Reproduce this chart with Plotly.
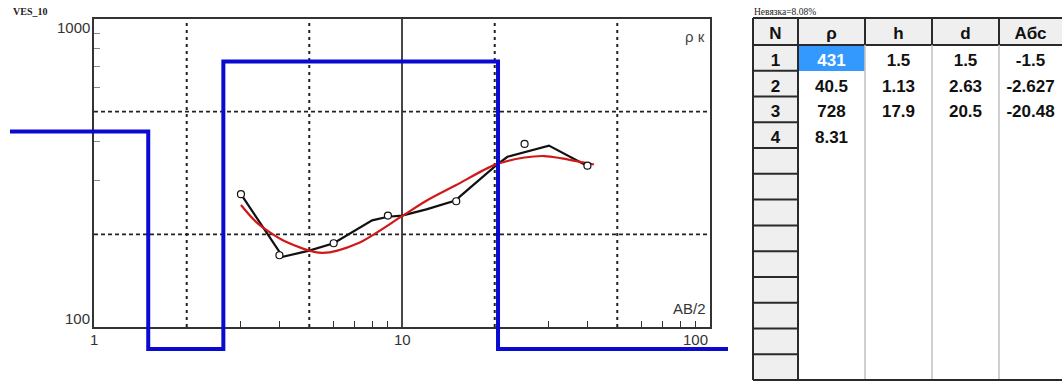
import math
import plotly.graph_objects as go

W, H = 1062, 381

# ---------------- data ----------------
# observed apparent resistivity (circles)
ab2_obs = [3, 4, 6, 9, 15, 25, 40]
rho_obs = [270, 171, 187, 230, 256, 393, 334]

# observed curve (black line)
ab2_line = [3, 4.1, 5, 6, 8, 9, 10, 12, 15, 15.4, 20.3, 22, 30, 41]
rho_line = [270, 169, 177, 187, 222, 228, 230, 241, 258, 265, 336, 357, 388, 329]

# model response (red line)
ab2_fit = [3, 3.4, 4.2, 5.5, 7.2, 10, 12, 15, 20, 25, 29, 33, 42]
rho_fit = [249, 217, 189, 174, 187, 229, 257, 289, 336, 355, 359, 353, 337]

# layered model (table + blue step line)
layer_n = ["1", "2", "3", "4"]
layer_rho = [431, 40.5, 728, 8.31]
layer_h = [1.5, 1.13, 17.9]
layer_d = [1.5, 2.63, 20.5]
layer_abs = [-1.5, -2.627, -20.48]
table_header = ["N", "ρ", "h", "d", "Абс"]
n_table_rows = 13

# axes
x_tick_vals = [1, 10, 100]
x_tick_text = ["1", "10", "100"]
y_tick_vals = [100, 1000]
y_tick_text = ["100", "1000"]
x_grid_dotted = [2, 5, 20, 50]
x_grid_solid = [10]
y_grid_dashed = [200, 500]
x_minor = [3, 4, 6, 7, 8, 9, 30, 40, 60, 70, 80, 90]
y_minor = [300, 400, 600, 700, 800, 900]

misfit_text = "Невязка=8.08%"
title_text = "VES_10"

# ---------------- geometry (pixels) ----------------
PX_L, PX_R, PX_T, PX_B = 94, 710, 19, 327
DEC = (PX_R - PX_L) / 2.0          # px per decade
BL_L, BL_R, BL_T, BL_B = 10, 728, 19, 351   # blue model drawing window


def fx(p):
    return p / W


def fy(p):
    return 1 - p / H


x_lo, x_hi = x_tick_vals[0], x_tick_vals[-1]
y_lo, y_hi = y_tick_vals[0], y_tick_vals[-1]

FONT = "Liberation Sans, Arial, sans-serif"
SERIF = "Liberation Serif, Times New Roman, serif"

fig = go.Figure()

# grid lines
gx, gy = [], []
for v in x_grid_dotted:
    gx += [v, v, None]
    gy += [y_lo, y_hi, None]
fig.add_trace(go.Scatter(x=gx, y=gy, mode="lines",
                         line=dict(color="#222", width=2, dash="3px,4px"),
                         hoverinfo="skip"))
gx, gy = [], []
for v in y_grid_dashed:
    gx += [x_lo, x_hi, None]
    gy += [v, v, None]
fig.add_trace(go.Scatter(x=gx, y=gy, mode="lines",
                         line=dict(color="#222", width=1.8, dash="4px,3px"),
                         hoverinfo="skip"))
gx, gy = [], []
for v in x_grid_solid:
    gx += [v, v, None]
    gy += [y_lo, y_hi, None]
fig.add_trace(go.Scatter(x=gx, y=gy, mode="lines",
                         line=dict(color="#333", width=1.8), hoverinfo="skip"))

# curves
fig.add_trace(go.Scatter(x=ab2_line, y=rho_line, mode="lines",
                         line=dict(color="#111", width=2.2)))
fig.add_trace(go.Scatter(x=ab2_fit, y=rho_fit, mode="lines",
                         line=dict(color="#d01818", width=2.2, shape="spline",
                                   smoothing=0.8)))
fig.add_trace(go.Scatter(x=ab2_obs, y=rho_obs, mode="markers",
                         marker=dict(symbol="circle", size=7, color="white",
                                     line=dict(color="#111", width=1.2))))

# blue step model on a wider, equally scaled axis pair
x2_range = [(BL_L - PX_L) / DEC + math.log10(x_lo), (BL_R - PX_L) / DEC + math.log10(x_lo)]
y2_range = [math.log10(y_lo) - (BL_B - PX_B) / DEC, math.log10(y_hi) + (PX_T - BL_T) / DEC]
floor_val = 10 ** (math.log10(y_lo) - (BL_B - 2 - PX_B) / DEC)
bx = [10 ** x2_range[0] / 10]
by = []
for i, r in enumerate(layer_rho):
    rv = max(r, floor_val)
    if i < len(layer_d):
        bx += [layer_d[i], layer_d[i]]
        by += [rv, rv]
    else:
        bx += [10 ** x2_range[1] * 10]
        by += [rv, rv]
fig.add_trace(go.Scatter(x=bx, y=by, mode="lines", xaxis="x2", yaxis="y2",
                         line=dict(color="#0a0ad0", width=4)))

# table
col_w = [45, 67, 67, 67, 63]
t_left = 753
t_top = 18
head_h = 27
row_h = (380 - t_top - head_h) / n_table_rows

def fmt(v):
    return "" if v is None else str(v)

pad = lambda lst: [fmt(v) for v in lst] + [""] * (n_table_rows - len(lst))
cols = [pad(layer_n), pad(layer_rho), pad(layer_h), pad(layer_d), pad(layer_abs)]
fills = [["#efefef"] * n_table_rows,
         ["#3399ff"] + ["white"] * (n_table_rows - 1),
         ["white"] * n_table_rows,
         ["white"] * n_table_rows,
         ["white"] * n_table_rows]
fcols = [["#111"] * n_table_rows,
         ["white"] + ["#111"] * (n_table_rows - 1),
         ["#111"] * n_table_rows,
         ["#111"] * n_table_rows,
         ["#111"] * n_table_rows]
fig.add_trace(go.Table(
    domain=dict(x=[fx(t_left), 1], y=[0, fy(t_top)]),
    columnwidth=col_w,
    header=dict(values=table_header, height=head_h, fill_color="#efefef",
                line=dict(width=0, color="#efefef"), align="center",
                font=dict(family=FONT, size=17, color="#111", weight="bold")),
    cells=dict(values=cols, height=row_h, fill_color=fills,
               line=dict(width=0, color="white"), align="center",
               font=dict(family=FONT, size=17, color=fcols, weight="bold")),
))

shapes = []
def seg(x0, y0, x1, y1, color, width):
    shapes.append(dict(type="line", xref="paper", yref="paper",
                       x0=fx(x0), y0=fy(y0), x1=fx(x1), y1=fy(y1),
                       line=dict(color=color, width=width), layer="above"))

edges = [t_left]
for w in col_w:
    edges.append(edges[-1] + w)
t_bot = t_top + head_h + row_h * n_table_rows
DARK = "#2a2a2a"
seg(t_left, t_top, W + 5, t_top, DARK, 2)
seg(t_left, t_top + head_h, W + 5, t_top + head_h, DARK, 2)
for e in edges[:-1]:
    seg(e, t_top, e, t_top + head_h, DARK, 2)
for e in edges[2:-1]:
    seg(e, t_top + head_h, e, t_bot, "#c4c4c4", 1.6)
seg(edges[0], t_top, edges[0], t_bot, DARK, 2)
seg(edges[1], t_top, edges[1], t_bot, DARK, 2)
for k in range(1, n_table_rows):
    yy = t_top + head_h + k * row_h
    seg(edges[0], yy, edges[1], yy, DARK, 2)
seg(t_left, t_bot, W + 5, t_bot, DARK, 2)

# annotations
ann = []
for v, t in zip(x_tick_vals, x_tick_text):
    ann.append(dict(x=math.log10(v), y=fy(339), xref="x", yref="paper", text=t,
                    showarrow=False, xanchor="right" if v == x_hi else "center",
                    yanchor="middle", font=dict(family=FONT, size=15, color="#333")))
for v, t in zip(y_tick_vals, y_tick_text):
    ann.append(dict(x=fx(92), y=math.log10(v), xref="paper", yref="y", text=t,
                    showarrow=False, xanchor="right", yanchor="middle",
                    yshift=-9 if v == y_hi else 9,
                    font=dict(family=FONT, size=15, color="#333")))
ann.append(dict(x=fx(708), y=fy(308), xref="paper", yref="paper", text="AB/2",
                showarrow=False, xanchor="right", yanchor="middle",
                font=dict(family=FONT, size=15, color="#333")))
ann.append(dict(x=fx(707), y=fy(36), xref="paper", yref="paper", text="ρ к",
                showarrow=False, xanchor="right", yanchor="middle",
                font=dict(family=FONT, size=15, color="#444")))
ann.append(dict(x=fx(11), y=fy(11.5), xref="paper", yref="paper", text=title_text,
                showarrow=False, xanchor="left", yanchor="middle",
                font=dict(family=SERIF, size=10, color="#222", weight="bold")))
ann.append(dict(x=fx(752), y=fy(12.5), xref="paper", yref="paper", text=misfit_text,
                showarrow=False, xanchor="left", yanchor="middle",
                font=dict(family=SERIF, size=9.5, color="#222")))

fig.update_layout(
    width=W, height=H, margin=dict(l=0, r=0, t=0, b=0),
    paper_bgcolor="white", plot_bgcolor="rgba(0,0,0,0)",
    showlegend=False, hovermode=False,
    xaxis=dict(type="log", domain=[fx(PX_L), fx(PX_R)],
               range=[math.log10(x_lo), math.log10(x_hi)],
               showgrid=False, zeroline=False, showline=True, mirror=True,
               linecolor="#333", linewidth=1.8, ticks="", tickvals=x_tick_vals,
               showticklabels=False,
               minor=dict(tickmode="array", tickvals=x_minor, ticks="inside",
                          ticklen=6, tickcolor="#333", tickwidth=1.2, showgrid=False)),
    yaxis=dict(type="log", domain=[fy(PX_B), fy(PX_T)],
               range=[math.log10(y_lo), math.log10(y_hi)],
               showgrid=False, zeroline=False, showline=True, mirror=True,
               linecolor="#333", linewidth=1.8, ticks="", tickvals=y_tick_vals,
               showticklabels=False,
               minor=dict(tickmode="array", tickvals=y_minor, ticks="inside",
                          ticklen=6, tickcolor="#888", tickwidth=1.2, showgrid=False)),
    xaxis2=dict(type="log", domain=[fx(BL_L), fx(BL_R)], range=x2_range,
                anchor="y2", visible=False, showgrid=False, zeroline=False),
    yaxis2=dict(type="log", domain=[fy(BL_B), fy(BL_T)], range=y2_range,
                anchor="x2", visible=False, showgrid=False, zeroline=False),
    shapes=shapes, annotations=ann,
)

fig.write_html("out.html")
